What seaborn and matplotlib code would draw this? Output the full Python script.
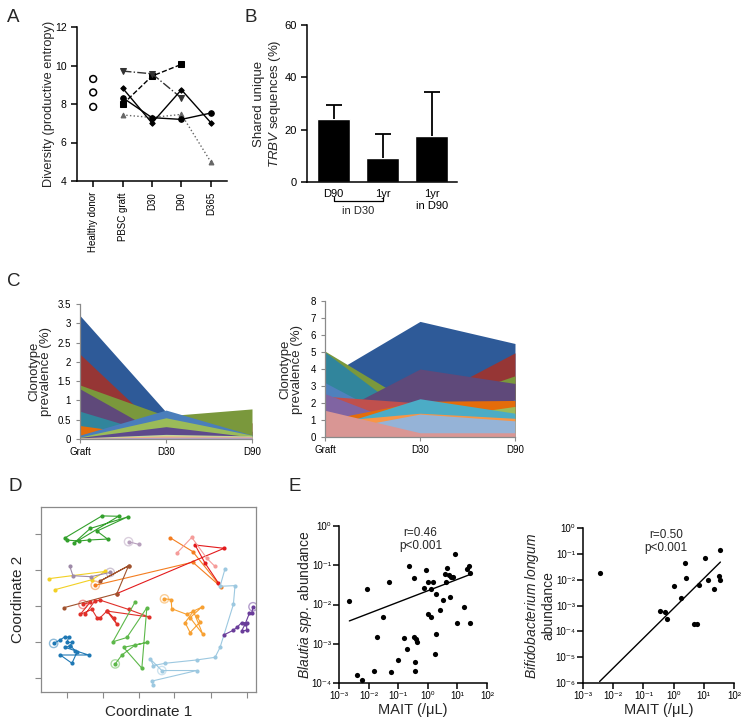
import numpy as np
import matplotlib
matplotlib.use("Agg")
import matplotlib.pyplot as plt
import matplotlib.transforms as mtransforms
import seaborn as sns

sns.set_style("ticks")
plt.rcParams['font.family'] = ['Liberation Sans', 'DejaVu Sans']
plt.rcParams['mathtext.fontset'] = 'custom'
plt.rcParams['mathtext.rm'] = 'Liberation Sans'
plt.rcParams['mathtext.it'] = 'Liberation Sans:italic'
plt.rcParams['mathtext.bf'] = 'Liberation Sans:bold'

# ---------------- data ----------------
# Panel A
A_cats = ["Healthy donor", "PBSC graft", "D30", "D90", "D365"]
A_healthy = [9.3, 8.6, 7.85]
A_pt_square = [7.98, 9.45, 10.06]          # graft, D30, D90
A_pt_invtri = [9.71, 9.57, 8.31]           # graft, D30, D90
A_pt_tri = [7.43, 7.30, 7.46, 4.99]        # graft, D30, D90, D365
A_pt_diamond = [8.83, 7.01, 8.74, 7.03]
A_pt_circle = [8.33, 7.29, 7.20, 7.53]

# Panel B
B_labels = ["D90", "1yr", "1yr\nin D90"]
B_shared = [24.1, 9.3, 17.5]
B_err = [5.5, 9.2, 17.0]

# Panel C
C_times = ["Graft", "D30", "D90"]
C_left_colors = ["#2E5A98", "#963635", "#7A983C", "#5F497A", "#31859C", "#E46C0A",
                 "#4A7EBB", "#9BBB59", "#5E4A8C", "#C3D69B", "#F9B27A", "#B3A2C7"]
C_left_vals = [[3.2, 0.70, 0.20], [2.2, 0.10, 0.42], [1.4, 0.60, 0.78], [1.3, 0.05, 0.03],
               [0.72, 0.05, 0.03], [0.35, 0.04, 0.03], [0.10, 0.75, 0.10], [0.05, 0.55, 0.10],
               [0.04, 0.32, 0.05], [0.03, 0.12, 0.08], [0.02, 0.08, 0.06], [0.02, 0.05, 0.05]]
C_right_colors = ["#2E5A98", "#963635", "#7A983C", "#31859C", "#5F497A", "#4F81BD",
                  "#C0504D", "#8064A2", "#E46C0A", "#9BBB59", "#4BACC6", "#F79646",
                  "#95B3D7", "#D99694"]
C_right_vals = [[3.5, 6.8, 5.5], [0.5, 2.0, 4.95], [5.05, 1.7, 3.6], [5.0, 0.8, 0.5],
                [1.1, 4.0, 3.15], [3.2, 0.25, 2.2], [2.4, 2.0, 0.3], [2.55, 0.4, 0.3],
                [1.0, 2.1, 2.15], [0.2, 1.0, 1.8], [0.5, 2.25, 1.4], [0.9, 1.4, 1.1],
                [0.3, 1.35, 0.95], [1.57, 0.25, 0.25]]

# Panel D : MDS trajectories (coordinate 1, coordinate 2)
D_colors = ["#33A02C", "#B7A0BD", "#F47D20", "#E31A1C", "#F59C9A", "#F2D024",
            "#9E8AA8", "#A0522D", "#E0302A", "#5DB84A", "#F7A032", "#9CC8E0",
            "#6A3D9A", "#1F78B4"]
D_x = [
    [-0.220, -0.110, -0.060, -0.195, -0.145, -0.033, -0.125, -0.093, -0.150, -0.180, -0.215],
    [-0.030, 0.000],
    [-0.130, 0.163, 0.248, 0.163, 0.095],
    [-0.065, 0.257, 0.170, 0.200, 0.240],
    [0.115, 0.160, 0.205, 0.230],
    [-0.270, -0.100, -0.140, -0.250],
    [-0.207, -0.197, -0.143, -0.085],
    [-0.225, -0.065, -0.030, -0.117, -0.030],
    [-0.167, -0.145, -0.175, -0.140, -0.125, -0.115, -0.095, -0.075, -0.065, -0.095, 0.032, -0.030, -0.115, -0.132, -0.160],
    [-0.010, -0.077, -0.035, 0.025, 0.010, -0.045, 0.025, -0.010, -0.050, -0.070],
    [0.078, 0.098, 0.100, 0.145, 0.190, 0.155, 0.193, 0.165, 0.140, 0.155, 0.185, 0.175],
    [0.260, 0.245, 0.290, 0.285, 0.245, 0.230, 0.175, 0.080, 0.045, 0.035, 0.070, 0.175, 0.040, 0.045],
    [0.257, 0.285, 0.297, 0.310, 0.325, 0.325, 0.310, 0.320, 0.333, 0.340, 0.344],
    [-0.255, -0.235, -0.220, -0.210, -0.215, -0.200, -0.205, -0.220, -0.190, -0.150, -0.235, -0.200, -0.185, -0.205],
]
D_y = [
    [0.207, 0.273, 0.272, 0.190, 0.235, 0.270, 0.227, 0.203, 0.200, 0.197, 0.200],
    [0.195, 0.187],
    [0.063, 0.133, 0.058, 0.165, 0.207],
    [0.038, 0.175, 0.185, 0.130, 0.070],
    [0.160, 0.208, 0.145, 0.120],
    [0.083, 0.105, 0.080, 0.050],
    [0.122, 0.092, 0.089, 0.102],
    [-0.005, 0.038, 0.122, 0.075, 0.122],
    [0.005, 0.012, -0.025, -0.010, -0.035, -0.035, -0.015, -0.035, -0.055, -0.015, -0.033, -0.010, 0.018, 0.015, -0.025],
    [0.013, -0.108, -0.095, -0.005, -0.188, -0.125, -0.110, -0.118, -0.148, -0.175],
    [0.022, 0.020, -0.008, -0.025, -0.003, -0.035, -0.085, -0.015, -0.050, -0.080, -0.048, -0.030],
    [0.113, 0.060, 0.062, 0.005, -0.125, -0.155, -0.163, -0.173, -0.180, -0.160, -0.195, -0.195, -0.227, -0.240],
    [-0.087, -0.073, -0.063, -0.050, -0.050, -0.073, -0.075, -0.055, -0.022, -0.022, -0.002],
    [-0.113, -0.102, -0.092, -0.095, -0.110, -0.110, -0.120, -0.125, -0.135, -0.148, -0.148, -0.173, -0.140, -0.120],
]
D_ring_idx = [None, 0, 0, None, None, None, 3, None, 0, 9, 0, 10, 10, 0]
D_xticks = [-0.215, -0.107, 0.0, 0.107, 0.217, 0.325]
D_yticks = [-0.218, -0.110, 0.0, 0.108, 0.218]

# Panel E (log10 values)
E1_log_mait = [-2.65, -2.38, -2.21, -2.06, -1.81, -1.70, -1.53, -1.30, -1.25, -1.02, -0.82,
               -0.71, -0.62, -0.48, -0.48, -0.43, -0.43, -0.40, -0.35, -0.14, -0.07, 0.00,
               0.01, 0.10, 0.10, 0.17, 0.25, 0.28, 0.28, 0.40, 0.53, 0.57, 0.61, 0.65, 0.72,
               0.76, 0.79, 0.84, 0.91, 0.98, 1.23, 1.32, 1.38, 1.44, 1.44]
E1_log_abund = [-1.92, -3.79, -3.92, -1.61, -3.70, -2.84, -2.31, -1.43, -3.73, -3.42, -2.86,
                -3.14, -1.01, -2.83, -1.33, -3.47, -3.70, -2.89, -2.95, -1.58, -1.12, -1.42,
                -2.25, -2.31, -1.61, -1.42, -3.25, -1.73, -2.75, -2.14, -1.88, -1.23, -1.42,
                -1.08, -1.25, -1.80, -1.29, -1.31, -0.71, -2.46, -2.07, -1.09, -1.02, -2.46, -1.19]
E1_fit = (0.29, -1.65)   # slope, intercept in log-log space
E2_log_mait = [-2.45, -0.46, -0.27, -0.23, 0.01, 0.23, 0.37, 0.41, 0.68, 0.76, 0.85, 1.04,
               1.13, 1.35, 1.51, 1.54, 1.55]
E2_log_abund = [-1.74, -3.20, -3.24, -3.53, -2.25, -2.72, -1.35, -1.92, -3.73, -3.73, -2.22,
                -1.16, -2.02, -2.38, -1.84, -0.85, -2.02]
E2_fit = (1.156, -3.11)
E_x_exps = [-3, -2, -1, 0, 1, 2]
E1_y_exps = [-4, -3, -2, -1, 0]
E2_y_exps = [-6, -5, -4, -3, -2, -1, 0]

SUP = str.maketrans("-0123456789", "⁻⁰¹²³⁴⁵⁶⁷⁸⁹")


def pow_label(e):
    return "10" + str(e).translate(SUP)


# ---------------- figure ----------------
W, H = 754, 725
fig = plt.figure(figsize=(W / 100, H / 100), dpi=100)


def axes_px(left, top, right, bottom):
    return fig.add_axes([left / W, 1 - bottom / H, (right - left) / W, (bottom - top) / H])


def prism(ax, labelsize=8):
    sns.despine(ax=ax)
    for s in ("left", "bottom"):
        ax.spines[s].set_linewidth(1.1)
        ax.spines[s].set_color("black")
    ax.tick_params(direction="out", length=4, width=1.1, labelsize=labelsize, colors="black")


# ---- Panel A ----
axA = axes_px(77, 27, 227, 181)
prism(axA, 7.5)
sns.scatterplot(x=[0] * len(A_healthy), y=A_healthy, ax=axA, marker="o", s=24,
                facecolor="none", edgecolor="black", linewidth=1.1)
series = [
    (A_pt_square, "s", "--", "black", 4),
    (A_pt_invtri, "v", "-.", "#333333", 4),
    (A_pt_tri, "^", ":", "#666666", 3.5),
    (A_pt_diamond, "D", "-", "black", 2.8),
    (A_pt_circle, "o", "-", "black", 4),
]
for vals, mk, ls, col, ms in series:
    xs = list(range(1, 1 + len(vals)))
    sns.lineplot(x=xs, y=vals, ax=axA, color=col, linestyle=ls, linewidth=1.0,
                 marker=mk, markersize=ms, markeredgecolor=col, markerfacecolor=col)
axA.set_xlim(-0.55, 4.55)
axA.set_ylim(4, 12)
axA.set_yticks([4, 6, 8, 10, 12])
axA.set_xticks(range(len(A_cats)))
axA.set_xticklabels(A_cats, rotation=90, fontsize=7)
axA.tick_params(axis="x", pad=4)
axA.set_ylabel("Diversity (productive entropy)", fontsize=9.2)
axA.yaxis.set_label_coords(-0.147, 0.5)

# ---- Panel B ----
axB = axes_px(307, 25, 457, 182)
prism(axB)
sns.barplot(x=B_labels, y=B_shared, ax=axB, color="black", width=0.67,
            errorbar=None, saturation=1)
eb = axB.errorbar(range(len(B_shared)), B_shared, yerr=[np.zeros(len(B_err)), B_err],
                  fmt="none", ecolor="black", elinewidth=1.3, capsize=6, capthick=1.3)
eb.lines[1][0].set_visible(False)   # hide the lower caps
axB.set_xlim(-0.54, 2.51)
axB.set_ylim(0, 60)
axB.set_yticks([0, 20, 40, 60])
axB.tick_params(axis="x", length=0, pad=5, labelsize=8)
axB.set_ylabel("Shared unique\n$\\it{TRBV}$ sequences (%)", fontsize=9.5)
axB.yaxis.set_label_coords(-0.16, 0.5)
trB = mtransforms.blended_transform_factory(axB.transData, axB.transAxes)
axB.plot([0, 0, 1, 1], [-0.096, -0.119, -0.119, -0.096], transform=trB,
         color="black", lw=0.9, clip_on=False)
axB.text(0.5, -0.150, "in D30", transform=trB, ha="center", va="top", fontsize=8)


# ---- Panel C ----
def area_panel(ax, vals_list, colors, ymax, yticks, ylabels):
    for vals, col in zip(vals_list, colors):
        ax.fill_between(range(len(C_times)), 0, vals, color=col, lw=0)
    sns.despine(ax=ax)
    for s in ("left", "bottom"):
        ax.spines[s].set_color("#8a8a8a")
        ax.spines[s].set_linewidth(0.9)
    ax.set_xlim(0, 2)
    ax.set_ylim(0, ymax)
    ax.set_xticks(range(len(C_times)))
    ax.set_xticklabels(C_times)
    ax.set_yticks(yticks)
    ax.set_yticklabels(ylabels)
    ax.tick_params(direction="out", length=3, width=0.8, colors="#8a8a8a",
                   labelcolor="black", labelsize=7)
    ax.tick_params(axis="x", pad=3)
    ax.set_ylabel("Clonotype\nprevalence (%)", fontsize=9.5, linespacing=1.0)


axC1 = axes_px(80, 304, 252, 439)
area_panel(axC1, C_left_vals, C_left_colors, 3.5,
           [0, 0.5, 1, 1.5, 2, 2.5, 3, 3.5], ["0", "0.5", "1", "1.5", "2", "2.5", "3", "3.5"])
axC1.yaxis.set_label_coords(-0.163, 0.5)
axC2 = axes_px(325, 301, 515, 437)
area_panel(axC2, C_right_vals, C_right_colors, 8,
           list(range(9)), [str(v) for v in range(9)])
axC2.yaxis.set_label_coords(-0.116, 0.5)

# ---- Panel D ----
axD = axes_px(41, 507, 256, 692)
for xs, ys, col, ri in zip(D_x, D_y, D_colors, D_ring_idx):
    sns.lineplot(x=xs, y=ys, ax=axD, sort=False, estimator=None, color=col,
                 linewidth=0.8, marker="o", markersize=3, markeredgewidth=0)
    if ri is not None:
        sns.scatterplot(x=[xs[ri]], y=[ys[ri]], ax=axD, s=36, facecolor="none",
                        edgecolor=col, linewidth=1.0, alpha=0.5)
axD.set_xlim(-0.293, 0.353)
axD.set_ylim(-0.260, 0.300)
axD.set_xticks(D_xticks)
axD.set_yticks(D_yticks)
axD.set_xticklabels([])
axD.set_yticklabels([])
for s in axD.spines.values():
    s.set_color("#8a8a8a")
    s.set_linewidth(0.9)
axD.tick_params(direction="out", length=4, width=0.8, colors="#8a8a8a")
axD.set_xlabel("Coordinate 1", fontsize=11)
axD.set_ylabel("Coordinate 2", fontsize=11)
axD.xaxis.set_label_coords(0.5, -0.07)
axD.yaxis.set_label_coords(-0.074, 0.5)


# ---- Panel E ----
def corr_panel(ax, lx, ly, fit, y_exps, ylabel, note):
    x = np.power(10.0, lx)
    y = np.power(10.0, ly)
    sns.scatterplot(x=x, y=y, ax=ax, color="black", s=14, linewidth=0)
    xl = np.array([min(lx), max(lx)])
    sns.lineplot(x=np.power(10.0, xl), y=np.power(10.0, fit[1] + fit[0] * xl),
                 ax=ax, color="black", linewidth=1.0)
    ax.set_xscale("log")
    ax.set_yscale("log")
    ax.set_xlim(10.0 ** E_x_exps[0], 10.0 ** E_x_exps[-1])
    ax.set_ylim(10.0 ** y_exps[0], 10.0 ** y_exps[-1])
    ax.set_xticks([10.0 ** e for e in E_x_exps])
    ax.set_xticklabels([pow_label(e) for e in E_x_exps])
    ax.set_yticks([10.0 ** e for e in y_exps])
    ax.set_yticklabels([pow_label(e) for e in y_exps])
    ax.minorticks_off()
    prism(ax)
    ax.tick_params(labelsize=7, pad=1.5)
    ax.set_xlabel("MAIT (/μL)", fontsize=10.5)
    ax.xaxis.set_label_coords(0.5, -0.13)
    ax.set_ylabel(ylabel, fontsize=10, linespacing=1.1)
    ax.text(0.55, 0.995, note, transform=ax.transAxes, ha="center", va="top",
            fontsize=8.5, linespacing=1.15)


axE1 = axes_px(339, 526, 487, 683)
corr_panel(axE1, E1_log_mait, E1_log_abund, E1_fit, E1_y_exps,
           "$\\it{Blautia\\ spp.}$ abundance", "r=0.46\np<0.001")
axE1.yaxis.set_label_coords(-0.17, 0.5)
axE2 = axes_px(583, 528, 734, 683)
corr_panel(axE2, E2_log_mait, E2_log_abund, E2_fit, E2_y_exps,
           "$\\it{Bifidobacterium\\ longum}$\nabundance", "r=0.50\np<0.001")
axE2.yaxis.set_label_coords(-0.18, 0.5)

# ---- panel letters ----
for letter, px, py in [("A", 7, 22), ("B", 245, 22), ("C", 7, 286), ("D", 8, 491), ("E", 288, 491)]:
    fig.text(px / W, 1 - py / H, letter, fontsize=13.5, va="baseline", ha="left")

fig.savefig("out.png", dpi=100)
